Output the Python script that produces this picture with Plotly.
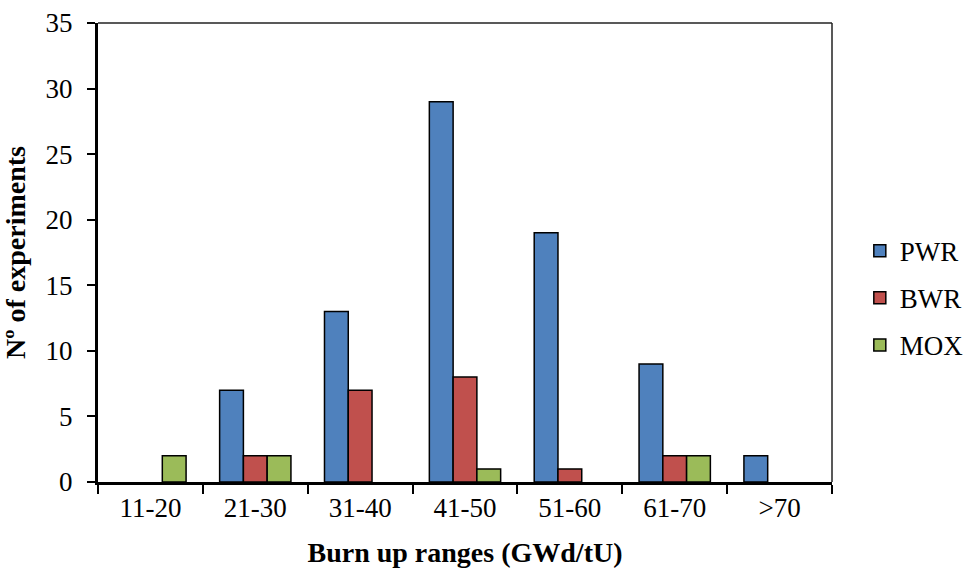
import plotly.graph_objects as go

# Burn-up range categories and number of experiments per reactor type
categories = ["11-20", "21-30", "31-40", "41-50", "51-60", "61-70", ">70"]
pwr = [0, 7, 13, 29, 19, 9, 2]
bwr = [0, 2, 7, 8, 1, 2, 0]
mox = [2, 2, 0, 1, 0, 2, 0]

series = [("PWR", pwr, "#4F81BD"), ("BWR", bwr, "#C0504D"), ("MOX", mox, "#9BBB59")]

FONT = "Liberation Serif, Times New Roman, serif"

fig = go.Figure()
for name, vals, color in series:
    # empty cells are left blank rather than drawn as flat outlines
    fig.add_trace(go.Bar(
        x=categories, y=[v if v else None for v in vals], name=name, legendgroup=name,
        marker=dict(color=color, line=dict(color="black", width=1.5)),
    ))

fig.update_layout(
    width=965, height=569,
    margin=dict(l=98, r=133, t=23, b=87, autoexpand=False),
    paper_bgcolor="white", plot_bgcolor="white",
    barmode="group", bargap=0.32, bargroupgap=0,
    font=dict(family=FONT, size=27, color="black"),
    legend=dict(xref="container", yref="container", x=0.891, y=0.476,
                xanchor="left", yanchor="middle",
                font=dict(size=27), tracegroupgap=9,
                itemwidth=30, bgcolor="rgba(0,0,0,0)"),
    xaxis=dict(
        type="category", showgrid=False, showline=True, linecolor="black", linewidth=3,
        ticks="outside", tickson="boundaries", ticklen=9, tickwidth=1.5, tickcolor="black",
        tickfont=dict(size=27), automargin=False,
        title=dict(text="<b>Burn up ranges (GWd/tU)</b>", font=dict(size=28), standoff=20),
    ),
    yaxis=dict(
        range=[0, 35], dtick=5, showgrid=False, zeroline=False,
        showline=True, linecolor="black", linewidth=3,
        ticks="outside", ticklen=8, tickwidth=1.5, tickcolor="black",
        ticklabelstandoff=9, tickfont=dict(size=27), automargin=False,
        title=dict(text="<b>Nº of experiments</b>", font=dict(size=28), standoff=14),
    ),
    shapes=[
        dict(type="line", xref="paper", yref="paper", x0=0, x1=1, y0=1, y1=1,
             line=dict(color="#222", width=1.5)),
        dict(type="line", xref="paper", yref="paper", x0=1, x1=1, y0=0, y1=1,
             line=dict(color="#222", width=1.5)),
    ],
)

fig.write_html("out.html")
